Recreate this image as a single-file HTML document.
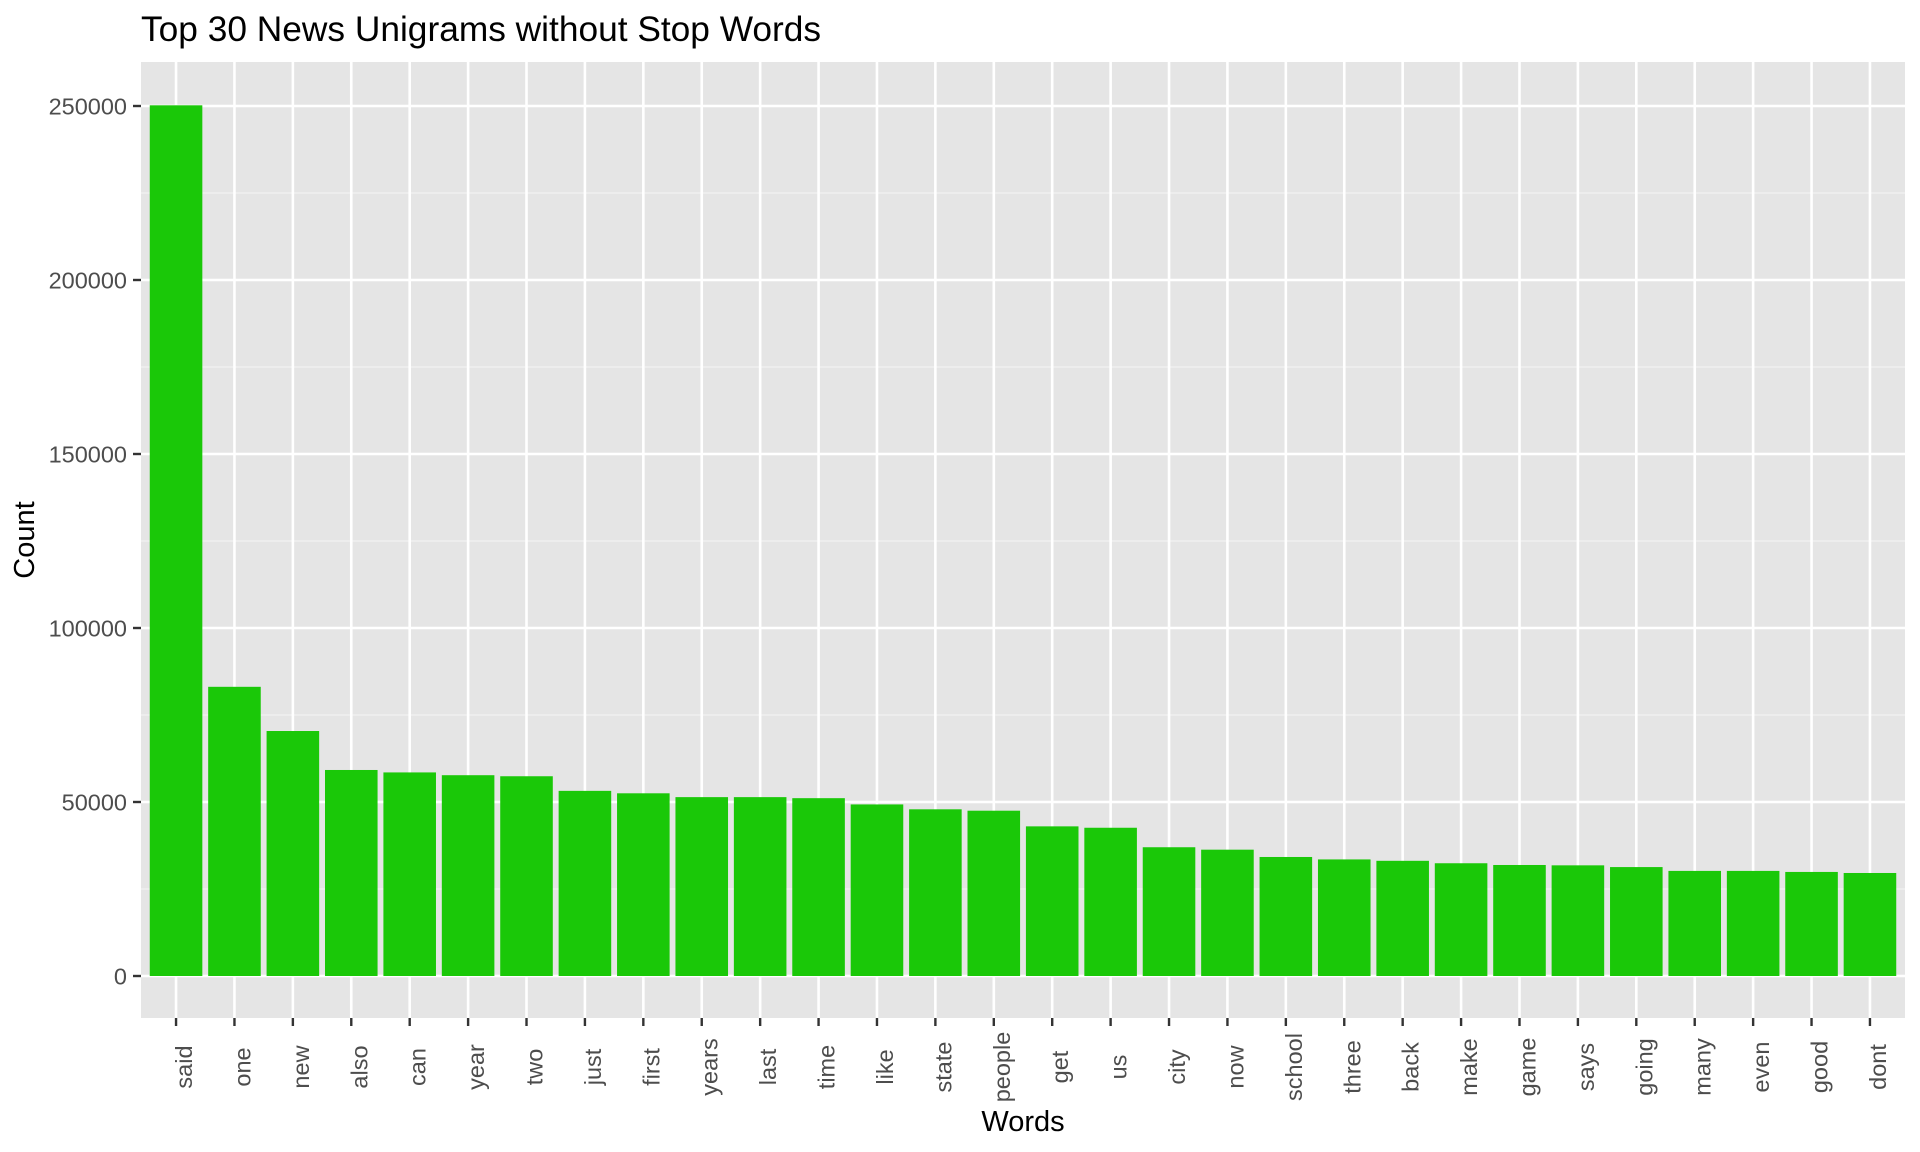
<!DOCTYPE html>
<html><head><meta charset="utf-8"><style>
html,body{margin:0;padding:0;background:#fff;width:1920px;height:1152px;overflow:hidden}
svg{display:block;font-family:"Liberation Sans",Arial,sans-serif}
</style></head><body>
<svg id="chart" width="1920" height="1152" viewBox="0 0 1920 1152" xmlns="http://www.w3.org/2000/svg">
<rect x="0" y="0" width="1920" height="1152" fill="#fff"/>
<text x="141" y="41" font-size="35.3" fill="#000">Top 30 News Unigrams without Stop Words</text>
<rect x="141" y="62" width="1764" height="956" fill="#e5e5e5"/>
<g id="grid"></g><g id="bars"></g><g id="yaxis"></g><g id="xaxis"></g>
<text transform="translate(34,540) rotate(-90)" text-anchor="middle" font-size="29" fill="#000">Count</text>
<text x="1023" y="1131" text-anchor="middle" font-size="29" fill="#000">Words</text>
</svg>
<script>
const categories = ["said","one","new","also","can","year","two","just","first","years","last","time","like","state","people","get","us","city","now","school","three","back","make","game","says","going","many","even","good","dont"];
const counts = [250200,83100,70400,59200,58500,57700,57400,53200,52500,51400,51400,51100,49300,47900,47500,43000,42600,37000,36300,34200,33500,33100,32400,31900,31800,31300,30200,30200,29900,29600];
const yTicks = [0,50000,100000,150000,200000,250000];
const yMinor = [25000,75000,125000,175000,225000,275000];

const NS = "http://www.w3.org/2000/svg";
const L = 141, R = 1905, T = 62, B = 1018;
const y0 = 976, pxPer = 870 / 250000;
const step = (R - L) / (categories.length + 0.2);
function y(v){ return y0 - v * pxPer; }
function x(i){ return L + step * (0.6 + i); }
function mk(tag, attrs, parent){ const e = document.createElementNS(NS, tag); for (const k in attrs) e.setAttribute(k, attrs[k]); parent.appendChild(e); return e; }
const grid = document.getElementById('grid'), bars = document.getElementById('bars'), ya = document.getElementById('yaxis'), xa = document.getElementById('xaxis');

yMinor.forEach(v => { const yy = y(v); if (yy < T || yy > B) return;
  const l = mk('line', {x1:L, x2:R, y1:yy, y2:yy, stroke:'#f2f2f2', 'stroke-width':1.3}, grid);
  
  
});
yTicks.forEach(v => { const yy = y(v);
  const l = mk('line', {x1:L, x2:R, y1:yy, y2:yy, stroke:'#fff', 'stroke-width':2.6}, grid);
  
  
  const t = mk('line', {x1:133, x2:141, y1:yy, y2:yy, stroke:'#333', 'stroke-width':2.4}, ya);
  
  
  const tx = mk('text', {x:127, y:yy + 8.3, 'text-anchor':'end', 'font-size':23.5, fill:'#4d4d4d'}, ya);
  tx.textContent = String(v);
  
  
});
categories.forEach((c, i) => { const cx = x(i);
  const g = mk('line', {x1:cx, x2:cx, y1:T, y2:B, stroke:'#fff', 'stroke-width':2.6}, grid);
  
  
  const w = step * 0.9;
  const b = mk('rect', {x:cx - w/2, y:y(counts[i]), width:w, height:y0 - y(counts[i]), fill:'#1ac808'}, bars);
  
  
  const t = mk('line', {x1:cx, x2:cx, y1:B, y2:B + 8, stroke:'#333', 'stroke-width':2.4}, xa);
  
  
  const tx = mk('text', {transform:'translate(' + (cx + 16) + ',1067) rotate(-90)', 'text-anchor':'middle', 'font-size':23.5, fill:'#4d4d4d'}, xa);
  tx.textContent = c;
  
  
});
</script>
</body></html>
